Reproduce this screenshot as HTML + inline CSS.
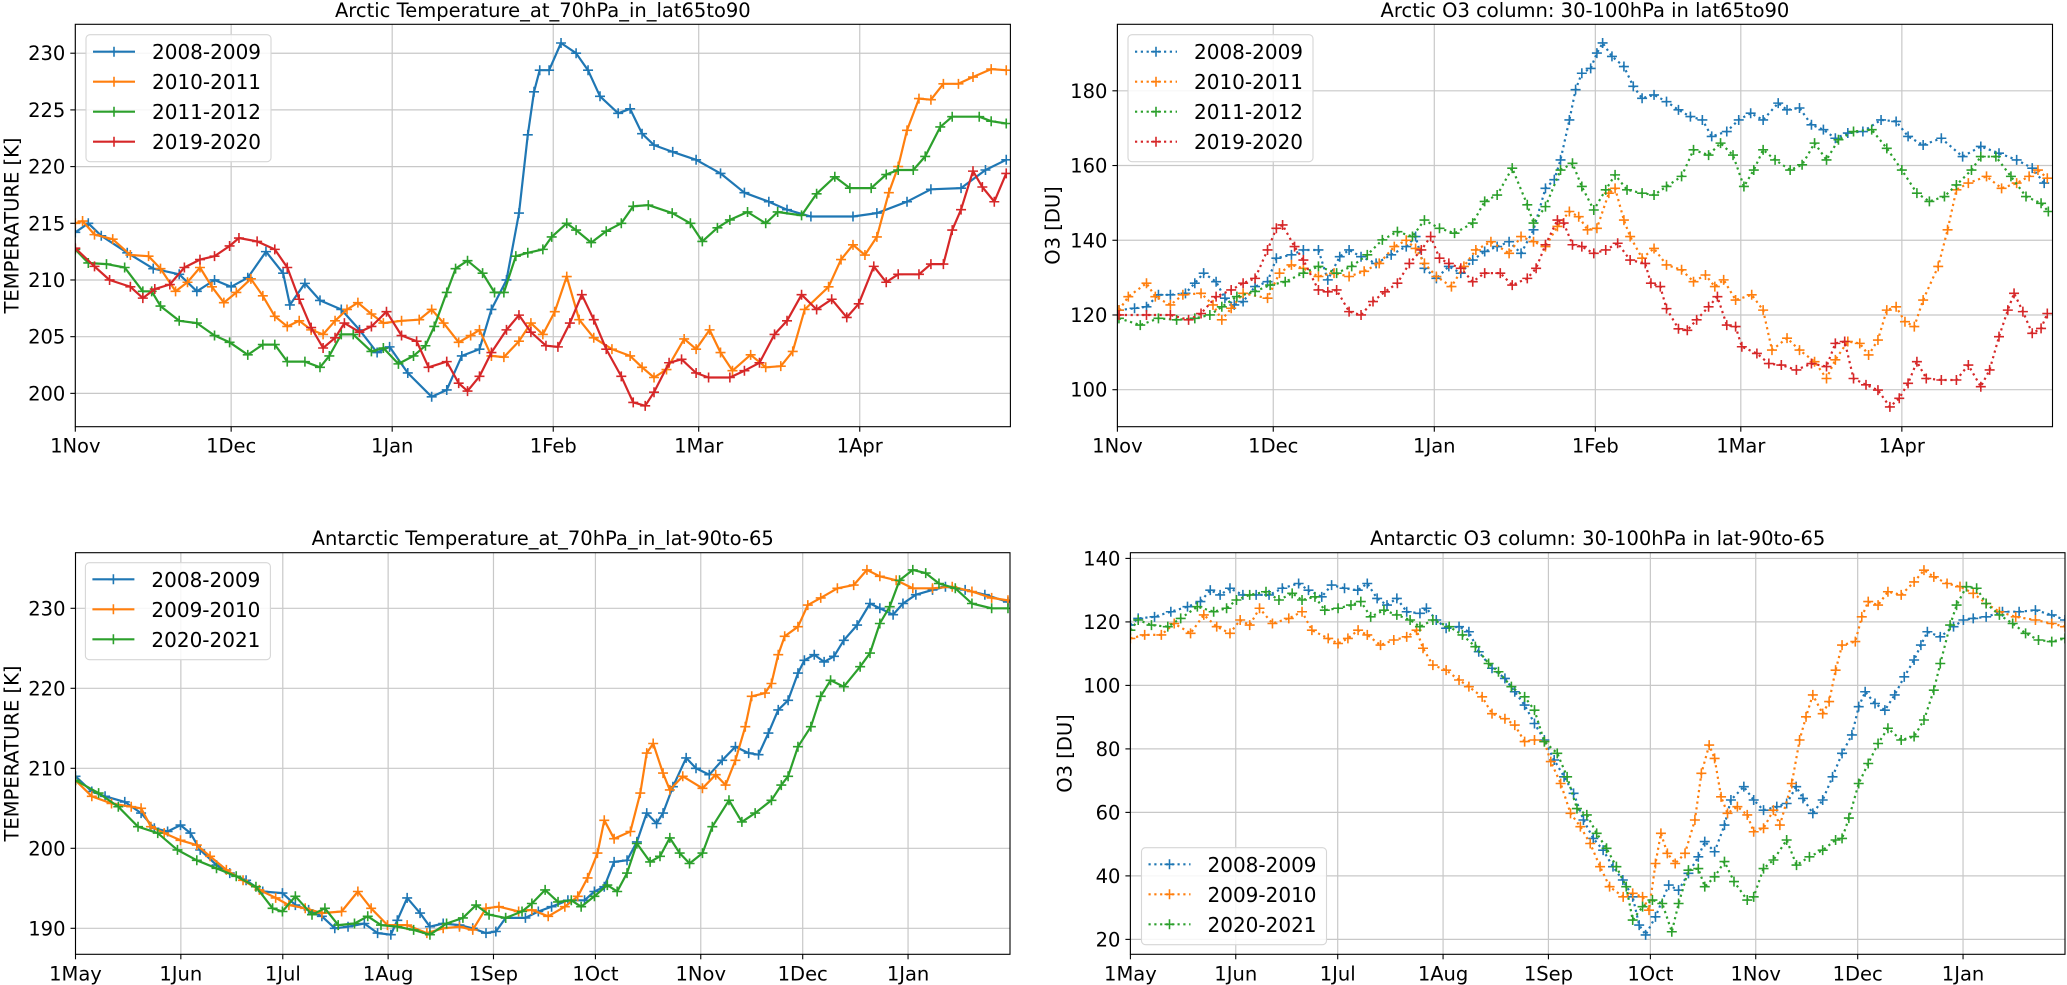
<!DOCTYPE html>
<html><head><meta charset="utf-8">
<style>
html,body{margin:0;padding:0;background:#fff;}
svg{display:block;font-family:"DejaVu Sans","Liberation Sans",sans-serif;}
</style></head>
<body>
<svg id="chart" width="2067" height="985" viewBox="0 0 2067 985" xmlns="http://www.w3.org/2000/svg"></svg>
<script>
// ===== Panel 1: Arctic temperature (days since 1 Nov) =====
const p1Days0809=[0,2.5,5,10,15,20,23.4,26.8,30,33.2,36.7,40,41.3,44.2,47.1,51.2,54.7,58.1,60.5,64,68.6,71.5,74.4,77.8,80.1,83,85.4,87.1,88.3,89.4,91.2,93.5,96.4,98.7,101,104.5,106.8,109.1,111.4,115,119.5,124.2,128.8,133.5,137,141.6,149.7,154.3,160.1,164.7,170.5,175.2,179.2];
const p1Vals0809=[214.2,215,213.9,212.4,211,210.5,209,210,209.4,210.2,212.5,210.6,207.8,209.7,208.2,207.4,205.6,203.6,204.1,201.8,199.7,200.3,203.3,203.9,207.4,210,215.9,222.8,226.6,228.5,228.5,230.9,230,228.5,226.2,224.7,225.1,222.9,221.9,221.3,220.6,219.4,217.7,216.9,216.2,215.6,215.6,215.9,216.9,218,218.1,219.7,220.6];
const p1Days1011=[0,1.4,3.7,7.2,10.6,14.1,16.4,19.3,21.6,24,26.3,28.6,31,33.8,36.1,38.4,40.8,43.1,45.4,47.7,50,52.3,54.4,57,59.3,62.8,66.2,68.6,70.9,73.8,76.1,77.8,80.1,82.5,85.4,87.7,90,92.3,94.6,97,99.8,103.3,106.8,109.1,111.4,113.8,117.2,119.5,122.1,124.2,126.5,130,132.9,135.8,138.1,140.4,145,147.4,149.7,152,154.3,156.6,158.4,160.1,162.4,164.7,167.1,170,172.8,176.3,179.2];
const p1Vals1011=[215,215.2,214,213.6,212.2,212.1,211,209,209.8,211.1,209.4,208,208.9,210.1,208.6,206.8,205.9,206.4,205.6,205.2,206.4,207.4,208,207,206.2,206.4,206.5,207.4,206.2,204.5,205.1,205.6,203.3,203.2,204.6,206.2,205.2,207.2,210.3,206.5,204.9,203.9,203.3,202.3,201.4,202.1,204.8,203.9,205.6,203.6,202,203.4,202.3,202.4,203.7,207.4,209.4,211.8,213.1,212.2,213.8,217.7,220,223.2,226,225.9,227.3,227.3,227.9,228.6,228.5];
const p1Days1112=[0,2.5,6,9.5,13,14.7,16.4,20,23.4,26.8,29.7,33.2,36.1,38.4,40.8,44.2,47.1,48.9,51.2,53.5,57,59.3,62.2,65.1,67.4,69.1,71.5,73.2,75.5,78.4,80.7,82.5,84.8,87.1,90,91.7,94.6,96.4,99.3,102.2,105.1,107.4,110.3,114.9,118.4,120.7,123.6,126,129.4,132.9,135.2,139.8,142.7,146.2,149.1,153.2,156.1,158.4,161.3,163.6,166.5,168.8,174,176.3,179.2];
const p1Vals1112=[212.7,211.5,211.4,211.1,209,209,207.7,206.4,206.2,205.1,204.5,203.4,204.3,204.3,202.8,202.8,202.3,203.3,205.2,205.2,203.7,204,202.6,203.3,204.2,205.9,208.9,211,211.7,210.6,208.9,208.9,212.1,212.4,212.7,213.8,215,214.4,213.3,214.3,215,216.5,216.6,215.9,215,213.4,214.6,215.3,216,215,216,215.7,217.6,219.1,218.1,218.1,219.3,219.7,219.7,220.9,223.5,224.4,224.4,224,223.8];
const p1Days1920=[0,3.7,6.6,10.6,13,15.3,18.2,21,24,26.8,29.7,31.5,35,38.4,40.8,43.1,45.4,47.7,50,51.8,54.7,57,59.9,62.8,65.7,68,71.5,73.8,75.5,77.8,80.1,83,85.4,87.7,90.6,92.9,95.2,97.5,99.8,102.2,105.1,107.4,109.7,111.4,114.3,116.7,119.5,121.9,126,128.8,131.7,134.6,137,139.8,142.7,145.6,148.5,150.8,153.7,156.1,158.4,162.4,164.7,167.1,168.8,170.5,172.8,174.6,176.9,179.2];
const p1Vals1920=[212.8,211.2,210,209.4,208.4,209.2,209.6,211.1,211.8,212.1,213,213.7,213.4,212.7,211.1,208.3,205.8,204,204.9,206.2,205.4,205.9,207.2,205.1,204.6,202.3,202.8,200.9,200.2,201.5,203.6,205.6,206.9,205.4,204.2,204.1,206.2,208.7,206.5,203.9,201.5,199.2,198.9,200.1,202.7,203,201.8,201.4,201.4,202,202.7,205.2,206.4,208.7,207.4,208.3,206.7,207.9,211.2,209.8,210.5,210.5,211.4,211.4,214.4,216.2,219.6,218.2,216.9,219.4];

// ===== Panel 2: Arctic O3 column =====
const p2Days0809=[0.3,3.3,5.6,7.9,10.2,13.1,14.9,16.6,19,20.7,22.5,24.2,26.5,28.9,30.6,33.5,35.8,38.7,40.5,42.8,44.6,46.9,49.8,52.7,55.6,57.4,59.1,61.4,63.8,66.1,68.4,70.7,73.1,75.4,77.7,80.1,82.4,84.1,85.3,87,88.2,89.4,91.1,92.3,93.4,95.2,97.5,99.3,101,103.3,105.7,108,110.3,112.6,114.4,117.3,119.6,121.9,124.3,127.2,128.9,131.3,133.6,135.9,138.2,140.6,143.5,147,149.9,152.2,155.1,158.6,162.7,166.2,169.7,173.1,176.1,178.4];
const p2Vals0809=[121.3,121.8,122.2,125.4,125.4,125.8,128.5,131.2,128.9,124.5,122.7,123.6,127.6,128.9,135.2,136.1,137.4,137.4,129.4,135.6,137.4,135.6,133.8,136.1,138.3,141,132.5,129.8,133,131.2,134.7,137,138.3,139.6,136.5,142.8,153.9,156.2,161.5,172.2,180.3,184.7,186,190.1,192.8,189.2,186.5,181.2,178,178.9,177.1,174.9,173.1,172.2,167.8,169.1,172.2,174,172.2,176.7,174.9,175.4,170.9,169.6,167.3,168.7,169.1,172.2,171.8,167.8,165.5,167.3,162.4,165.1,163.3,161.5,159.3,155.3];
const p2Days1011=[0.3,2.1,5.6,7.3,10.2,12.6,16.1,18.4,20.1,21.9,24.2,28.9,31.2,33.5,35.8,38.7,41.7,44.6,47.5,50.4,53.3,55.6,57.4,59.1,61.4,64.3,66.7,69,71.9,75.4,77.7,80.1,82.4,84.7,87,88.8,90.5,92.3,94.6,95.8,97.5,98.7,101,103.3,105.7,108.6,110.9,113.2,115,116.7,119,122.1,124.3,126,128.9,131.3,134.2,136.5,138.2,140.6,142.9,144.6,146.4,148.1,149.9,151.6,153.4,155.1,158,159.8,161.5,163.8,167.3,170.2,173.1,175.5,177.2,179];
const p2Vals1011=[121.3,124.9,128.5,124.9,122.7,125.4,125.8,122.7,118.7,121.8,125.8,124.5,131.2,133.4,132.5,130.3,131.2,130.3,131.7,133.8,138.3,140,137.8,133.8,130.3,127.6,133,137.4,139.6,136.5,141,139.6,138.3,143.7,147.7,146.3,142.8,143.2,152.6,153.9,145.4,141,135.2,137.8,133.4,132.1,128.9,130.7,127.6,129.4,124,125.4,121.3,110.6,113.8,110.6,107.5,103,108,112.9,112.4,109.3,113.3,121.3,122.2,118.2,116.9,124,133,142.8,153.5,155.3,157.1,153.9,155.3,157.1,158.8,156.6];
const p2Days1112=[0.3,4.4,7.9,11.4,14.9,17.8,20.1,23,26.5,29.4,32.3,35.8,38.7,42.2,45.1,48.1,51,53.9,56.8,59.1,62,64.9,68.4,70.7,73.1,76,78.9,80.1,82.4,85.3,87.6,89.4,91.7,94,95.8,98.1,101,103.3,105.7,108.6,110.9,113.8,116.1,118.5,120.6,122.5,124.3,126.6,129.5,131.8,134.2,136.5,138.8,141.7,145.2,148.1,151,153.9,156.3,159.2,161.5,164.4,166.2,169.1,172,174.9,177.8,179.2];
const p2Vals1112=[119.1,117.3,119.1,118.7,119.1,120,122.2,124.9,126.3,128,128.9,131.2,133,131.2,133,136.1,140.1,142.3,141,145.4,143.2,141.9,144.6,150.4,152.1,159.3,149.5,144.6,149,158.8,160.6,154.4,148.1,153.5,157.5,153.5,152.6,152.1,154.4,157.1,164.2,162.8,166,162.8,154.4,158.8,164.2,161.5,158.8,160.2,166,161.5,166.9,169.1,169.6,164.6,158.8,152.6,150.4,151.7,154.8,158.8,162.4,162.4,157.1,151.7,149.9,147.7];
const p2Days1920=[0.3,5.6,10.2,13.7,16.1,19,21.9,24.2,26.5,28.9,30.6,31.8,34.1,35.8,38.7,40.5,42.2,44.6,46.9,49.2,51.5,53.9,56.2,58.5,60.3,62,63.8,66.1,68.4,70.7,73.7,76,78.9,80.6,82.4,84.7,85.9,87.6,89.4,91.7,94,96.3,98.7,101.6,102.7,104.5,105.7,108,109.7,111.5,113.8,115.5,117.3,119,120.2,123.1,125.4,127.8,130.7,133.6,136.5,138.2,140,141.7,144.1,146.4,148.7,150.5,152.2,153.9,155.7,158.6,161.5,163.8,166.2,167.9,169.7,171.4,172.6,174.3,176.1,177.8,179];
const p2Vals1920=[120,120,120,118.7,120.4,124.9,126.7,128.5,129.8,137.4,143.2,144.1,138.3,134.7,126.7,126.2,126.7,120.9,120,123.6,126.2,128.5,133.8,137.4,141,135.2,133.8,132.5,128.9,131.2,131.2,128,129.8,132.5,138.8,145.4,144.6,138.8,138.3,136.5,137.4,139.2,134.7,133.8,128.5,127.6,121.7,116.3,115.9,118.7,122.2,124.9,117.3,116.9,111.5,109.7,107,106.6,105.3,107,106.2,112.4,112.9,103,101.3,99.9,95.4,97.7,101.7,107.5,103,102.6,102.6,106.6,100.8,105.3,114.2,121.3,125.8,120.9,115.1,116.4,120.4];

// ===== Panel 3: Antarctic temperature (days since 1 May) =====
const p3Days0809=[0,4.8,8.7,14.5,19.3,23.2,27.1,30.9,33.8,36.7,41.5,45.4,50.2,55.1,60.9,64.7,68.6,72.5,76.3,80.2,85,88.9,92.8,94.7,97.6,101.4,104.3,108.2,113,116.9,120.8,123.7,126.6,132.4,136.2,140.1,144.9,149.8,152.7,155.6,158.5,162.3,165.2,168.1,171,172.9,175.8,179.7,182.6,186.5,190.3,194.2,198.1,201,203.9,206.8,209.7,212.6,214.5,217.4,220.3,223.2,226.1,230,233.8,236.7,240.6,243.5,247.3,252.2,256,261.8,267.6,274.4];
const p3Vals0809=[209,207.1,206.5,205.8,204.4,202.5,202.1,202.9,201.9,199.8,197.9,196.9,196,194.6,194.4,192.9,192.3,191.5,190,190.2,190.6,189.4,189.2,191,193.8,191.9,190.2,190.6,190.4,190,189.4,189.6,191.3,191.3,192.1,192.7,193.5,193.5,194.6,195.2,198.3,198.5,200.8,204.4,203.1,204.4,207.7,211.3,210,209.2,211,212.7,211.9,211.7,214.4,217.3,218.5,221.9,223.5,224.2,223.3,224,226,227.9,230.6,230,229.2,230.6,231.7,232.3,232.7,232.3,231.7,230.8];
const p3Days0910=[0,4.8,10.6,16.4,19.3,22.2,26.1,30.9,35.7,39.6,44.4,49.3,54.1,58.9,62.8,67.6,72.5,78.3,83.1,87,91.8,97.6,103.4,108.2,113,116.9,120.8,124.6,130.4,134.3,139.1,144,147.8,150.7,153.6,155.6,158.5,163.3,166.2,168.1,170,172.9,174.9,178.7,184.5,188.4,191.3,194.2,197.1,199,202.9,204.8,206.8,208.7,212.6,215.5,219.3,224.2,229,232.9,236.7,241.5,246.4,252.2,258,263.8,269.6,274.4];
const p3Vals0910=[208.5,206.5,205.6,205.2,205,202.7,201.9,201,200.4,199,197.3,196,194.8,193.8,192.9,192.5,191.9,192.1,194.6,192.5,190.4,190.4,189.4,190,190.2,189.8,192.5,192.7,192.1,192.3,191.5,192.7,194,196.3,199.4,203.5,201.2,202.1,206.9,211.9,213.1,209.4,207.3,209,207.5,209.2,207.9,211,215.2,219,219.4,220.6,224.2,226.5,227.7,230.4,231.3,232.5,232.9,234.8,234,233.5,232.5,232.5,232.7,232.1,231.3,231];
const p3Days2021=[0,6.8,12.6,18.4,24.2,30,35.7,41.5,47.3,53.1,58,60.9,64.7,69.6,73.4,77.3,82.1,86,89.9,94.7,99.5,104.3,109.2,114,117.9,121.7,126.6,131.4,134.3,138.2,142,145.9,148.8,152.7,156.5,159.4,162.3,165.2,169.1,172,174.9,177.8,180.7,184.5,187.4,192.3,196.1,200,204.8,207.7,209.7,212.6,216.4,219.3,222.2,226.1,230.9,233.8,236.7,239.6,242.5,246.4,250.2,254.1,258.9,263.8,269.6,274.4];
const p3Vals2021=[208.5,206.9,205.2,202.7,201.9,199.8,198.5,197.5,196.5,195.2,192.5,192.1,194,191.7,192.5,190.4,190.6,191.5,190.4,190.2,189.8,189.2,190.6,191.3,192.9,191.7,191.3,192.1,193.1,194.8,193.3,193.5,192.7,194,195.4,194.6,196.9,200.6,198.3,199,201.3,199.4,198.1,199.4,202.7,206,203.3,204.4,206,207.9,209,212.7,215.2,219,221,220.2,222.7,224.4,228.1,230.2,233.5,234.8,234.4,233.1,232.5,230.6,230,230];

// ===== Panel 4: Antarctic O3 column =====
const p4Days0809=[0,2.3,7.1,11.9,16.8,20.6,23.5,26.4,29.3,33.1,37,40.8,44.7,49.5,52.4,56.3,59.2,63,66.9,69.7,72.6,75.5,78.4,81.3,85.2,87.1,90,92.9,96.7,99.6,102.5,106.4,110.2,113.1,116,118.9,121.8,124.7,127.6,130.4,133.3,136.2,139.1,142,144.9,147.8,149.7,151.6,154.5,158.4,161.3,164.2,167.1,169,171.9,174.8,176.7,180.5,183.4,186.3,190.2,193.1,195.9,197.9,200.8,203.7,206.6,209.4,212.3,214.3,216.2,219.1,222,224.9,227.7,230.6,232.6,234.5,238.3,242.2,245.1,248,251.8,256.6,261.5,266.3,271.1,275];
const p4Vals0809=[119,121.1,121.6,123.2,124.8,126.4,130,128.5,130.6,128.5,128.5,128.5,130.6,132.1,130,127.9,131.6,130.6,130,132.1,127.4,125.3,127.4,123.2,122.7,124.3,120.6,118,118.5,116.9,110.6,105.4,102.2,98,93.8,88,82.8,76.5,71.2,66,57.6,51.8,48.1,42.9,38.7,33.4,24.5,21.4,27.1,37.1,35.5,40.8,46,50.8,47.6,56,63.9,68.1,63.9,60.7,61.8,62.8,68.1,64.4,59.7,63.9,71.2,78.6,84.4,93.3,98,94.3,92.2,97,102.7,108,112.7,116.9,115.3,118.5,120.6,121.1,121.6,123.2,123.2,123.7,122.2,120.6];
const p4Days0910=[0,4.2,9.1,12.9,17.7,21.6,25.4,29.3,32.3,35.1,38,41.8,46.6,50.5,53.4,58.2,61.1,64,67,69.7,73.6,77.5,81.3,84.2,86.1,89,92.9,96.7,99.6,103.5,106.4,110.2,113.1,116,118.9,121.8,123.7,126.6,129.5,132.4,135.3,138.2,141,145,147.8,150.7,152.6,154.5,156.1,158,160.3,163.2,166.1,168,170.3,171.9,173.8,175.7,178.6,181.5,183.4,186.3,189.2,191.1,194.6,196.9,198.8,200.8,203.7,205.6,207.5,209.4,213.3,215.2,217.1,220,222.9,226.8,230.6,233.5,236.4,240.3,244.1,248,251.8,255.7,260.5,266.3,271.1,275];
const p4Vals0910=[114.8,115.9,115.9,119.5,116.4,122.2,118.5,116.4,120.6,119,124.3,119.5,121.1,123.2,117.4,114.8,113.2,114.8,117.4,115.9,112.7,114.3,115.3,117.4,111.7,106.4,104.8,101.7,99.6,96.4,91.1,89.5,87.5,82.3,82.8,82.3,76,69.1,59.7,55.5,50.2,42.9,36.6,33.4,34.5,33.4,29.2,43.9,53.4,47.1,43.9,47.1,57.6,72.3,81.2,77,64.9,59.7,61.8,59.2,53.9,55,60.7,56,69.1,82.8,90.1,97,91.1,94.9,104.8,112.7,113.8,121.6,126.4,125.3,129.5,128.5,132.6,136.3,134.2,132.1,131.1,129,125.8,123.2,121.6,120.6,119.5,118.5];
const p4Days2021=[0,2.3,6.2,11,14.8,19.7,24.5,28.3,31.2,35.1,39.9,43.7,47.6,50.5,54.3,57.2,61.1,64.9,67.8,70.7,74.6,78.4,82.3,85.2,89,93.8,97.7,101.5,105.4,108.3,112.1,116,118.9,121.8,125.6,128.5,131.4,134.3,137.2,140.1,143,145.9,147.8,150.7,153.6,156.5,159.3,161.3,164.2,167.1,169,171.9,174.8,177.6,181.5,183.4,186.3,189.2,193.1,196,199.8,203.7,207.5,209.4,211.4,214.3,217.1,220,222.9,226.8,230.6,233.5,236.4,238.3,241.2,243.1,246,249,251.8,255.7,259.6,263.4,267.2,271.1,275];
const p4Vals2021=[117.4,120.6,119,118.5,121.1,124.8,123.2,124.3,126.9,128.5,129.5,126.9,129,126.9,127.9,123.7,124.3,125.3,126.4,121.6,123.7,122.2,120.6,118.5,120.6,118.5,115.9,112.2,106.9,104.3,99.6,96.4,92.2,82.3,78.6,71.2,61.2,59.2,53.4,48.7,42.9,36.6,26.1,30.3,32.4,31.3,22.4,31.3,41.8,42.3,36.6,39.7,44.5,38.2,32.4,33.4,42.3,45,51.3,43.4,46,48.1,51.3,51.8,58.2,69.1,75.4,81.7,86.5,82.8,83.9,89.1,98.5,106.9,119,125.3,131.1,130.6,125.8,122.2,119.5,116.4,114.3,113.8,114.8];

// tick labels
const p1XTickDays=[0,30,61,92,120,151];
const p1XTickLabels=["1Nov","1Dec","1Jan","1Feb","1Mar","1Apr"];
const p1YTicks=[200,205,210,215,220,225,230];
const p2YTicks=[100,120,140,160,180];
const p3XTickDays=[0,31,61,92,123,153,184,214,245];
const p3XTickLabels=["1May","1Jun","1Jul","1Aug","1Sep","1Oct","1Nov","1Dec","1Jan"];
const p3YTicks=[190,200,210,220,230];
const p4YTicks=[20,40,60,80,100,120,140];
const labelsArctic=["2008-2009","2010-2011","2011-2012","2019-2020"];
const labelsAntarctic=["2008-2009","2009-2010","2020-2021"];

const C=["#1f77b4","#ff7f0e","#2ca02c","#d62728"];
const NS="http://www.w3.org/2000/svg";
const svg=document.getElementById('chart');
function mk(tag,attrs,parent){const e=document.createElementNS(NS,tag);for(const k in attrs)e.setAttribute(k,attrs[k]);(parent||svg).appendChild(e);return e;}

const panels=[
 {id:'arctic-temp',title:'Arctic Temperature_at_70hPa_in_lat65to90',x0:75.3,x1:1010.4,y0:24.3,y1:426.7,xmin:0,xmax:180,ymin:197.06,ymax:232.55,
  xt:p1XTickDays,xl:p1XTickLabels,yt:p1YTicks,ylabel:'TEMPERATURE [K]',ylx:12,dotted:false,
  series:[[p1Days0809,p1Vals0809],[p1Days1011,p1Vals1011],[p1Days1112,p1Vals1112],[p1Days1920,p1Vals1920]],labels:labelsArctic,
  leg:{x:86,y:34.7,w:185,h:127,rows:[51.7,81.7,111.7,141.7]}},
 {id:'arctic-o3',title:'Arctic O3 column: 30-100hPa in lat65to90',x0:1117.4,x1:2052.5,y0:24.3,y1:426.7,xmin:0,xmax:180,ymin:90.1,ymax:197.8,
  xt:p1XTickDays,xl:p1XTickLabels,yt:p2YTicks,ylabel:'O3 [DU]',ylx:1053,dotted:true,
  series:[[p2Days0809,p2Vals0809],[p2Days1011,p2Vals1011],[p2Days1112,p2Vals1112],[p2Days1920,p2Vals1920]],labels:labelsArctic,
  leg:{x:1128,y:34.7,w:185,h:127,rows:[51.7,81.7,111.7,141.7]}},
 {id:'antarctic-temp',title:'Antarctic Temperature_at_70hPa_in_lat-90to-65',x0:75.5,x1:1010,y0:552.7,y1:954.3,xmin:0,xmax:275,ymin:186.75,ymax:236.95,
  xt:p3XTickDays,xl:p3XTickLabels,yt:p3YTicks,ylabel:'TEMPERATURE [K]',ylx:12,dotted:false,
  series:[[p3Days0809,p3Vals0809],[p3Days0910,p3Vals0910],[p3Days2021,p3Vals2021]],labels:labelsAntarctic,
  leg:{x:85.4,y:562.7,w:185,h:97,rows:[579.3,609.3,639.3]}},
 {id:'antarctic-o3',title:'Antarctic O3 column: 30-100hPa in lat-90to-65',x0:1130.4,x1:2065,y0:552.7,y1:954.3,xmin:0,xmax:275,ymin:15.3,ymax:141.8,
  xt:p3XTickDays,xl:p3XTickLabels,yt:p4YTicks,ylabel:'O3 [DU]',ylx:1065,dotted:true,
  series:[[p4Days0809,p4Vals0809],[p4Days0910,p4Vals0910],[p4Days2021,p4Vals2021]],labels:labelsAntarctic,
  leg:{x:1141.5,y:847.7,w:185,h:97,rows:[864.3,894.3,924.3]}}
];

function plus(g,x,y,col){
  const p=mk('path',{d:`M${x-5},${y}H${x+5}M${x},${y-5}V${y+5}`,stroke:col,'stroke-width':1.6,fill:'none'},g);
  
  
}

panels.forEach((P,pi)=>{
  const g=mk('g',{});
  
  
  const sx=d=>P.x0+(d-P.xmin)/(P.xmax-P.xmin)*(P.x1-P.x0);
  const sy=v=>P.y1-(v-P.ymin)/(P.ymax-P.ymin)*(P.y1-P.y0);
  const clipId='clip'+pi;
  const cp=mk('clipPath',{id:clipId},g);
  mk('rect',{x:P.x0,y:P.y0,width:P.x1-P.x0,height:P.y1-P.y0},cp);
  // grid
  P.xt.forEach(d=>{const l=mk('line',{x1:sx(d),x2:sx(d),y1:P.y0,y2:P.y1,stroke:'#c8c8c8','stroke-width':1.2},g);
    });
  P.yt.forEach(v=>{const l=mk('line',{x1:P.x0,x2:P.x1,y1:sy(v),y2:sy(v),stroke:'#c8c8c8','stroke-width':1.2},g);
    });
  // series
  const sg=mk('g',{'clip-path':`url(#${clipId})`},g);
  P.series.forEach((s,si)=>{
    const [ds,vs]=s;const n=Math.min(ds.length,vs.length);
    let d='';for(let i=0;i<n;i++)d+=(i?'L':'M')+sx(ds[i]).toFixed(1)+','+sy(vs[i]).toFixed(1);
    const ln=mk('path',{d:d,fill:'none',stroke:C[si],'stroke-width':2.2,'stroke-linejoin':'round'},sg);
    if(P.dotted){ln.setAttribute('stroke-dasharray','2.2,3.6');}
    
    
    for(let i=0;i<n;i++)plus(sg,sx(ds[i]),sy(vs[i]),C[si]);
  });
  // spines
  const sp=mk('rect',{x:P.x0,y:P.y0,width:P.x1-P.x0,height:P.y1-P.y0,fill:'none',stroke:'#000','stroke-width':1.1},g);
  
  // x ticks
  P.xt.forEach((d,i)=>{
    mk('line',{x1:sx(d),x2:sx(d),y1:P.y1,y2:P.y1+5,stroke:'#000','stroke-width':1.1},g);
    const t=mk('text',{x:sx(d),y:P.y1+26,'font-size':19.5,'text-anchor':'middle',fill:'#000'},g);
    t.textContent=P.xl[i];
    
  });
  P.yt.forEach(v=>{
    mk('line',{x1:P.x0-5,x2:P.x0,y1:sy(v),y2:sy(v),stroke:'#000','stroke-width':1.1},g);
    const t=mk('text',{x:P.x0-10,y:sy(v)+7,'font-size':19.5,'text-anchor':'end',fill:'#000'},g);
    t.textContent=String(v);
    
  });
  // title
  const tt=mk('text',{x:(P.x0+P.x1)/2,y:P.y0-7.5,'font-size':19.5,'text-anchor':'middle',fill:'#000'},g);
  tt.textContent=P.title;
  
  // y label
  const yc=(P.y0+P.y1)/2;
  const yl=mk('text',{x:P.ylx,y:yc,'font-size':19.5,'text-anchor':'middle','dominant-baseline':'central',fill:'#000',transform:`rotate(-90 ${P.ylx} ${yc})`},g);
  yl.textContent=P.ylabel;
  
  // legend
  const L=P.leg;
  const lg=mk('g',{},g);
  
  mk('rect',{x:L.x,y:L.y,width:L.w,height:L.h,rx:4,fill:'#fff','fill-opacity':0.85,stroke:'#d6d6d6','stroke-width':1.1},lg);
  L.rows.forEach((ry,i)=>{
    const e=mk('g',{},lg);
    
    const l=mk('line',{x1:L.x+7,x2:L.x+49,y1:ry,y2:ry,stroke:C[i],'stroke-width':2.2},e);
    if(P.dotted)l.setAttribute('stroke-dasharray','2.2,3.6');
    plus(e,L.x+28,ry,C[i]);
    const t=mk('text',{x:L.x+66,y:ry+7.5,'font-size':20,fill:'#000'},e);
    t.textContent=P.labels[i];
  });
});
</script>
</body></html>
